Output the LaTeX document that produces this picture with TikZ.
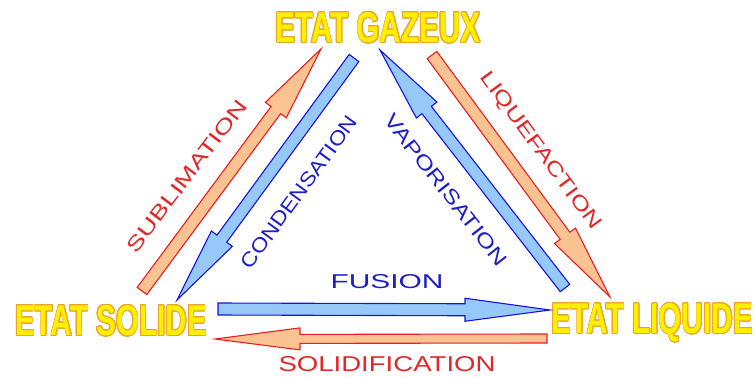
\documentclass[tikz,border=0pt]{standalone}
\usepackage{graphicx}
\usepackage{fontspec}
\setmainfont{Liberation Sans}
\usepackage{contour}
\usetikzlibrary{calc}
\definecolor{bluedge}{RGB}{20,20,225}
\definecolor{bluefill}{RGB}{150,200,250}
\definecolor{rededge}{RGB}{235,30,30}
\definecolor{redfill}{RGB}{250,195,145}
\definecolor{titlefill}{RGB}{255,240,0}
\definecolor{titleedge}{RGB}{235,165,40}
\definecolor{bluetext}{RGB}{30,30,200}
\definecolor{redtext}{RGB}{225,40,40}
\contourlength{1pt}
\newcommand\titletext[1]{\scalebox{0.69}[1]{\fontsize{43}{43}\selectfont\bfseries\color{titlefill}\contour[24]{titleedge}{#1}}}
\newcommand\lbl[2]{\resizebox{#1}{14pt}{\fontsize{20}{20}\selectfont #2}}
% block arrow: style, tail, tip, shaft half width, head half width, head length
\newcommand\barrow[6]{%
  \coordinate (hb) at ($(#3)!#6!(#2)$);
  \draw[#1] ($(#2)!#4!90:(#3)$) -- ($(hb)!#4!90:(#3)$) -- ($(hb)!#5!90:(#3)$) -- (#3)
    -- ($(hb)!#5!-90:(#3)$) -- ($(hb)!#4!-90:(#3)$) -- ($(#2)!#4!-90:(#3)$) -- cycle;}
\tikzset{
  blueblock/.style={draw=bluedge, fill=bluefill, line width=1.1pt, line join=miter},
  redblock/.style={draw=rededge, fill=redfill, line width=1.1pt, line join=miter},
  state/.style={inner sep=0pt},
  bluelbl/.style={inner sep=0pt, text=bluetext},
  redlbl/.style={inner sep=0pt, text=redtext}
}
\begin{document}
\begin{tikzpicture}[x=1pt,y=-1pt]
\useasboundingbox (0,0) rectangle (755,376);
% states
\node[state] (gaz) at (378,28) {\titletext{ETAT GAZEUX}};
\node[state] (sol) at (111,321) {\titletext{ETAT SOLIDE}};
\node[state] (liq) at (652,323) {\titletext{ETAT LIQUIDE}};
% arrow end points
\coordinate (subT) at (142,291);  \coordinate (subH) at (321,49);
\coordinate (conT) at (354,58);   \coordinate (conH) at (177,300);
\coordinate (vapT) at (565,288);  \coordinate (vapH) at (380,50);
\coordinate (liqT) at (432,55);   \coordinate (liqH) at (610,297);
\coordinate (fusT) at (218,309);  \coordinate (fusH) at (550,310);
\coordinate (solT) at (547,338.5);\coordinate (solH) at (215,339);
% arrows
\barrow{redblock}{subT}{subH}{6pt}{13pt}{76pt}
\barrow{blueblock}{conT}{conH}{6pt}{13pt}{76pt}
\barrow{blueblock}{vapT}{vapH}{6pt}{13pt}{76pt}
\barrow{redblock}{liqT}{liqH}{6pt}{13pt}{76pt}
\barrow{blueblock}{fusT}{fusH}{6pt}{11.5pt}{85pt}
\barrow{redblock}{solT}{solH}{4.5pt}{11pt}{85pt}
% labels
\node[redlbl, rotate=53] (lsub) at (187,176) {\lbl{185pt}{SUBLIMATION}};
\node[bluelbl, rotate=54] (lcon) at (299,192) {\lbl{183pt}{CONDENSATION}};
\node[bluelbl, rotate=-52] (lvap) at (446,190) {\lbl{186pt}{VAPORISATION}};
\node[redlbl, rotate=-53.6] (lliq) at (540,151) {\lbl{190pt}{LIQUEFACTION}};
\node[bluelbl] (lfus) at (387,282) {\lbl{113pt}{FUSION}};
\node[redlbl] (lsol) at (387,364.5) {\resizebox{217pt}{15pt}{\fontsize{20}{20}\selectfont SOLIDIFICATION}};
\end{tikzpicture}
\end{document}
